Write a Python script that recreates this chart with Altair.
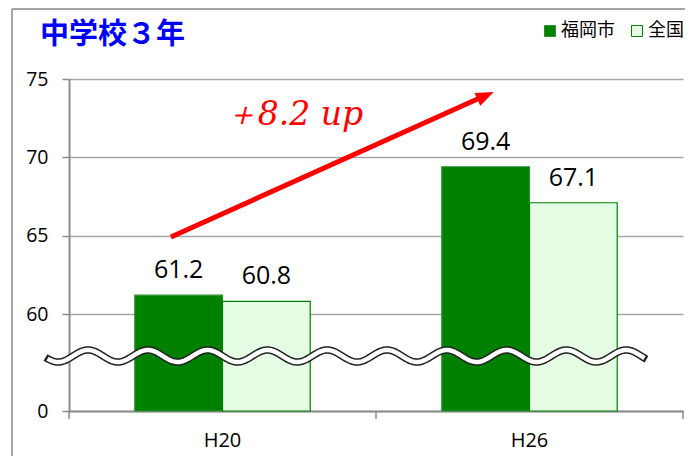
import altair as alt
import pandas as pd
import numpy as np

# ---------------- data ----------------
CATEGORIES = ["H20", "H26"]
SERIES = ["福岡市", "全国"]
FUKUOKA = [61.2, 69.4]
ZENKOKU = [60.8, 67.1]
Y_TICKS = [0, 60, 65, 70, 75]
TITLE = "中学校３年"
ANNOT = "＋8.2 up"

FILLS = ["#008000", "#E4FBE4"]
STROKES = ["#2f8f2f", "#008000"]

rows = []
for i, c in enumerate(CATEGORIES):
    rows.append({"cat": c, "series": SERIES[0], "value": FUKUOKA[i]})
    rows.append({"cat": c, "series": SERIES[1], "value": ZENKOKU[i]})
df = pd.DataFrame(rows)

W, H = 614, 332
Y60 = 235  # pixel position of 60 (broken axis: 0..60 compressed)

yscale = alt.Scale(domain=[0, 60, 75], range=[H, Y60, 0], nice=False, zero=False)
uscale = alt.Scale(domain=[0, 2], nice=False, zero=False)

GRAY = "#8c8c8c"

yaxis = alt.Axis(values=Y_TICKS, grid=True, gridColor="#a6a6a6", gridWidth=1.3,
                 domainColor=GRAY, domainWidth=2, tickColor=GRAY, tickSize=7,
                 tickWidth=1.5, labelFont="Open Sans", labelFontSize=19.5,
                 labelColor="black", labelPadding=14, title=None)
xaxis = alt.Axis(title=None, labelAngle=0, ticks=False, tickSize=0,
                 domainColor=GRAY, domainWidth=2, labelFont="Open Sans",
                 labelFontSize=20, labelColor="black", labelPadding=29,
                 labelBaseline="middle")

legend = alt.Legend(title=None, orient="none", legendX=472, legendY=-57,
                    direction="horizontal", symbolType="square", symbolSize=121,
                    symbolStrokeColor="#008000", symbolStrokeWidth=1,
                    labelFont="Noto Sans CJK JP", labelFontSize=18,
                    labelColor="black", labelOffset=2, columnPadding=13, padding=0)

bars = alt.Chart(df).mark_bar(strokeWidth=1.2).encode(
    x=alt.X("cat:N", sort=CATEGORIES, scale=alt.Scale(paddingInner=0, paddingOuter=0), axis=xaxis),
    xOffset=alt.XOffset("series:N", sort=SERIES,
                        scale=alt.Scale(domain=SERIES, paddingInner=0, paddingOuter=0.75)),
    y=alt.Y("value:Q", scale=yscale, axis=yaxis),
    fill=alt.Fill("series:N", scale=alt.Scale(domain=SERIES, range=FILLS), legend=legend),
    stroke=alt.Stroke("series:N", scale=alt.Scale(domain=SERIES, range=STROKES), legend=None),
)

labels = alt.Chart(df).mark_text(baseline="alphabetic", align="center", dy=-17,
                                 font="Open Sans", fontSize=25, color="black").encode(
    x=alt.X("cat:N", sort=CATEGORIES),
    xOffset=alt.XOffset("series:N", sort=SERIES),
    y=alt.Y("value:Q", scale=yscale),
    text=alt.Text("value:Q", format=".1f"),
)

main = alt.layer(bars, labels)

# x-axis ticks at category boundaries (units: 0 = left edge, 1 = middle, 2 = right edge)
TICK_UNITS = [0, 1, 2]
ticks = alt.Chart(pd.DataFrame({"u": TICK_UNITS})).mark_rule(color=GRAY, strokeWidth=1.5).encode(
    x=alt.X("u:Q", scale=uscale, axis=None),
    y=alt.value(H), y2=alt.value(H + 8),
)

# break symbol (wavy line), decoration in pixel terms converted to scale units
PX_PER_U = W / 2
wave_px = np.arange(-23.5, 578.0, 1.0)
wave_ypx = 277 - 6 * np.cos(2 * np.pi * (wave_px - 19) / 59.8)
wave_df = pd.DataFrame({"u": wave_px / PX_PER_U, "v": (H - wave_ypx) / (H - Y60) * 60})
inner = (wave_px >= -22) & (wave_px <= 576)
wave_in = wave_df[inner]

wave_black = alt.Chart(wave_df).mark_line(color="#222222", strokeWidth=7.5, strokeCap="butt").encode(
    x=alt.X("u:Q", scale=uscale, axis=None), y=alt.Y("v:Q", scale=yscale))
wave_white = alt.Chart(wave_in).mark_line(color="white", strokeWidth=4.5, strokeCap="butt").encode(
    x=alt.X("u:Q", scale=uscale, axis=None), y=alt.Y("v:Q", scale=yscale))

# arrow
ARROW_U = [0.332, 1.338]
ARROW_V = [64.92, 73.79]
HEAD_U = [1.354]
HEAD_V = [73.91]
shaft = alt.Chart(pd.DataFrame({"u": ARROW_U, "v": ARROW_V})).mark_line(
    color="#ff0000", strokeWidth=5, strokeCap="butt").encode(
    x=alt.X("u:Q", scale=uscale, axis=None), y=alt.Y("v:Q", scale=yscale))
head = alt.Chart(pd.DataFrame({"u": HEAD_U, "v": HEAD_V})).mark_point(
    shape="M1,0L-0.8,-0.7L-0.8,0.7Z", filled=True, size=400, angle=335.8,
    color="#ff0000", opacity=1, strokeWidth=0).encode(
    x=alt.X("u:Q", scale=uscale, axis=None), y=alt.Y("v:Q", scale=yscale))

ANNOT_U = [0.733]
ANNOT_V = [72.06]
annot = alt.Chart(pd.DataFrame({"u": ANNOT_U, "v": ANNOT_V, "t": [ANNOT]})).mark_text(
    font="DejaVu Serif", fontStyle="italic", fontSize=33, color="#ff0000",
    baseline="alphabetic", align="center").encode(
    x=alt.X("u:Q", scale=uscale, axis=None), y=alt.Y("v:Q", scale=yscale), text="t:N")

title = alt.Chart(alt.Data(values=[{"t": TITLE}])).mark_text(
    align="left", baseline="middle", font="Noto Sans CJK JP", fontSize=29,
    fontWeight="bold", color="#0000ff").encode(
    x=alt.value(-29), y=alt.value(-44.5), text="t:N")

BOTTOM = 45
frame_v = alt.Chart(alt.Data(values=[{}])).mark_rule(color="#8a8a8a", strokeWidth=1.5).encode(
    x=alt.value(-57), y=alt.value(-70), y2=alt.value(H + BOTTOM))
frame_h = alt.Chart(alt.Data(values=[{}])).mark_rule(color="#8a8a8a", strokeWidth=1.5).encode(
    x=alt.value(-57), x2=alt.value(W + 10), y=alt.value(-70))

chart = alt.layer(
    main, ticks, wave_black, wave_white, shaft, head, annot, title, frame_v, frame_h
).resolve_scale(x="independent").properties(
    width=W, height=H,
    autosize=alt.AutoSizeParams(type="none"),
    padding={"left": 61, "top": 71, "right": 2, "bottom": BOTTOM},
).configure_view(stroke="transparent")

chart.save("out.html", embed_options={"renderer": "svg", "actions": False})
